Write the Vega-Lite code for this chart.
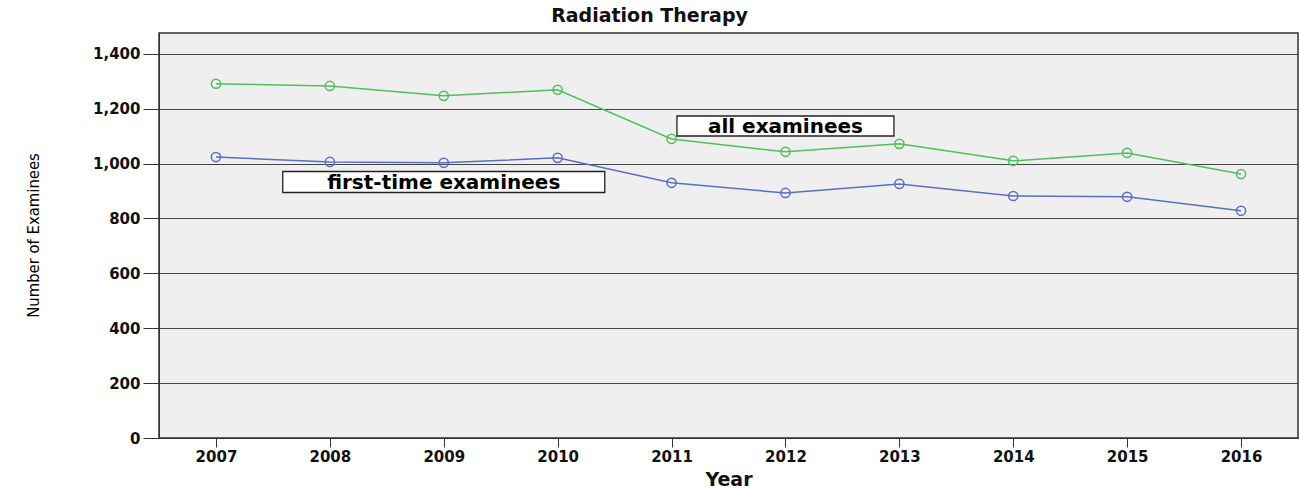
{
  "$schema": "https://vega.github.io/schema/vega-lite/v6.json",
  "autosize": {"type": "none"},
  "padding": {"left": 159, "top": 33, "right": 2, "bottom": 51},
  "width": 1139,
  "height": 405,
  "background": "white",
  "title": {
    "text": "Radiation Therapy",
    "font": "DejaVu Sans",
    "fontSize": 19,
    "fontWeight": "bold",
    "color": "#111",
    "anchor": "middle",
    "dx": -79,
    "offset": 7
  },
  "config": {
    "view": {"fill": "#efefef", "stroke": "#333", "strokeWidth": 1.5},
    "axis": {
      "labelFont": "DejaVu Sans",
      "labelFontWeight": "bold",
      "labelFontSize": 15,
      "labelColor": "#111",
      "domainColor": "#333",
      "tickColor": "#333",
      "gridColor": "#444",
      "gridOpacity": 1,
      "gridWidth": 1
    }
  },
  "datasets": {
    "series": [
      {"year": "2007", "group": "all examinees", "count": 1291},
      {"year": "2008", "group": "all examinees", "count": 1283},
      {"year": "2009", "group": "all examinees", "count": 1247},
      {"year": "2010", "group": "all examinees", "count": 1269},
      {"year": "2011", "group": "all examinees", "count": 1090},
      {"year": "2012", "group": "all examinees", "count": 1043},
      {"year": "2013", "group": "all examinees", "count": 1072},
      {"year": "2014", "group": "all examinees", "count": 1010},
      {"year": "2015", "group": "all examinees", "count": 1039},
      {"year": "2016", "group": "all examinees", "count": 962},
      {"year": "2007", "group": "first-time examinees", "count": 1024},
      {"year": "2008", "group": "first-time examinees", "count": 1006},
      {"year": "2009", "group": "first-time examinees", "count": 1003},
      {"year": "2010", "group": "first-time examinees", "count": 1021},
      {"year": "2011", "group": "first-time examinees", "count": 930},
      {"year": "2012", "group": "first-time examinees", "count": 893},
      {"year": "2013", "group": "first-time examinees", "count": 926},
      {"year": "2014", "group": "first-time examinees", "count": 882},
      {"year": "2015", "group": "first-time examinees", "count": 879},
      {"year": "2016", "group": "first-time examinees", "count": 828}
    ],
    "labelAll": [{"year": "2012", "count": 1137, "label": "all examinees"}],
    "labelFirst": [{"year": "2009", "count": 933, "label": "first-time examinees"}]
  },
  "encoding": {
    "x": {
      "field": "year",
      "type": "ordinal",
      "scale": {"type": "point", "padding": 0.5},
      "axis": {
        "title": "Year",
        "titleFont": "DejaVu Sans",
        "titleFontSize": 19,
        "titleFontWeight": "bold",
        "titleColor": "#111",
        "titleBaseline": "alphabetic",
        "titleY": 47,
        "labelAngle": 0,
        "tickSize": 9,
        "labelPadding": 2,
        "grid": false
      }
    },
    "y": {
      "field": "count",
      "type": "quantitative",
      "scale": {"domain": [0, 1476], "nice": false},
      "axis": {
        "title": "Number of Examinees",
        "titleFont": "Liberation Sans Narrow, DejaVu Sans Condensed, Liberation Sans",
        "titleFontSize": 16.5,
        "titleFontWeight": "normal",
        "titleColor": "#000",
        "titleAngle": -90,
        "titleAlign": "center",
        "titleBaseline": "middle",
        "titleX": -126,
        "titleY": 202,
        "values": [0, 200, 400, 600, 800, 1000, 1200, 1400],
        "format": ",d",
        "tickSize": 16,
        "labelPadding": 3,
        "grid": true
      }
    }
  },
  "layer": [
    {
      "data": {"name": "series"},
      "mark": {"type": "line", "strokeWidth": 1.5},
      "encoding": {
        "color": {
          "field": "group",
          "type": "nominal",
          "scale": {"domain": ["all examinees", "first-time examinees"], "range": ["#4ec05c", "#5a6ec8"]},
          "legend": null
        }
      }
    },
    {
      "data": {"name": "series"},
      "mark": {"type": "point", "filled": false, "size": 85, "strokeWidth": 1.5, "opacity": 1},
      "encoding": {
        "color": {
          "field": "group",
          "type": "nominal",
          "scale": {"domain": ["all examinees", "first-time examinees"], "range": ["#4ec05c", "#5a6ec8"]},
          "legend": null
        }
      }
    },
    {
      "data": {"name": "labelAll"},
      "mark": {"type": "point", "shape": "M-1,-0.0922H1V0.0922H-1Z", "size": 47089, "filled": true, "fill": "white", "stroke": "#222", "strokeWidth": 1.3, "opacity": 1}
    },
    {
      "data": {"name": "labelAll"},
      "mark": {"type": "text", "font": "DejaVu Sans", "fontSize": 20, "fontWeight": "bold", "color": "#000", "baseline": "middle", "align": "center", "dy": 1},
      "encoding": {"text": {"field": "label"}}
    },
    {
      "data": {"name": "labelFirst"},
      "mark": {"type": "point", "shape": "M-1,-0.0652H1V0.0652H-1Z", "size": 103684, "filled": true, "fill": "white", "stroke": "#222", "strokeWidth": 1.3, "opacity": 1}
    },
    {
      "data": {"name": "labelFirst"},
      "mark": {"type": "text", "font": "DejaVu Sans", "fontSize": 20, "fontWeight": "bold", "color": "#000", "baseline": "middle", "align": "center", "dy": 1},
      "encoding": {"text": {"field": "label"}}
    }
  ]
}
